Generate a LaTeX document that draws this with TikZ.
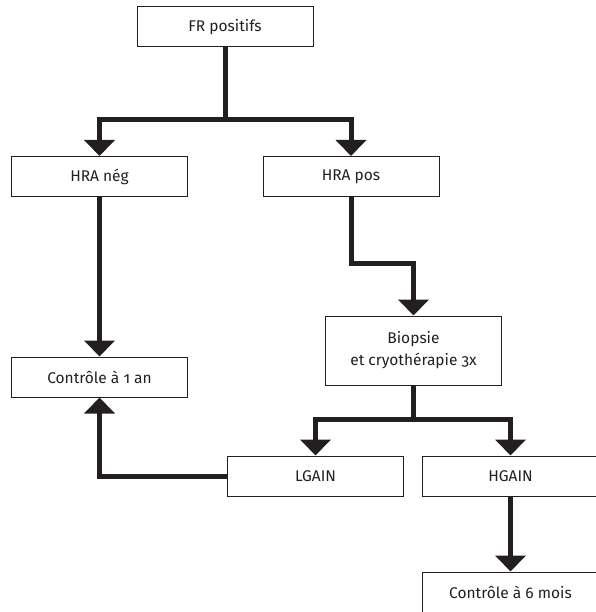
\documentclass[tikz,border=0pt]{standalone}
\usepackage{fontspec}
\setmainfont{Fira Sans}[Numbers=OldStyle]
\usetikzlibrary{arrows.meta}
\definecolor{ink}{HTML}{231F20}
\begin{document}
\begin{tikzpicture}[x=1pt,y=-1pt,
  box/.style={draw=ink,line width=1pt,minimum width=176pt,minimum height=40pt,
    inner sep=0pt,text=ink,font=\fontsize{15.5}{22}\selectfont,align=center},
  link/.style={draw=ink,line width=5pt,line join=miter},
  arr/.style={link,-{Triangle[width=30pt,length=16pt]}}]
\useasboundingbox (0,0) rectangle (595,612);
\node[box] (fr)    at (225,27)    {FR positifs};
\node[box] (hneg)  at (99.5,176.5) {HRA nég};
\node[box] (hpos)  at (351,176.5) {HRA pos};
\node[box] (c1)    at (99.5,377)  {Contrôle à 1 an};
\node[box,minimum height=69pt] (bio) at (413.5,350.5) {Biopsie\\et cryothérapie 3x};
\node[box] (lgain) at (315.5,476) {LGAIN};
\node[box] (hgain) at (510.5,476) {HGAIN};
\node[box] (c6)    at (510.5,592) {Contrôle à 6 mois};
\coordinate (j1) at (225,120);
\coordinate (j2) at (380,263);
\coordinate (j3) at (413.5,419);
\draw[link] (fr.south) -- (j1);
\draw[arr] (j1) -| (hneg.north);
\draw[arr] (j1) -| (hpos.north);
\draw[arr] (hneg.south) -- (c1.north);
\draw[arr] (hpos.south) |- (j2) -| (bio.north);
\draw[link] (bio.south) -- (j3);
\draw[arr] (j3) -| (lgain.north);
\draw[arr] (j3) -| (hgain.north);
\draw[arr] (lgain.west) -| (c1.south);
\draw[arr] (hgain.south) -- (c6.north);
\end{tikzpicture}
\end{document}
